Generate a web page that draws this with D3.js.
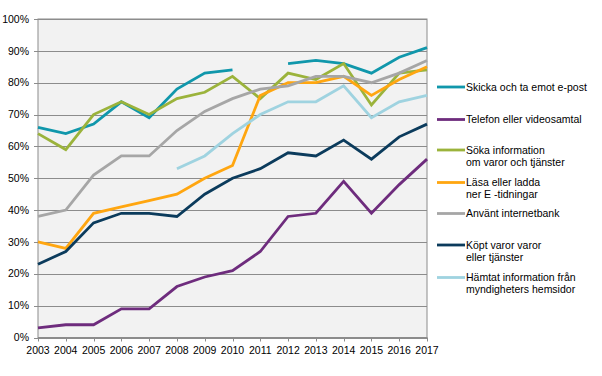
<!DOCTYPE html>
<html>
<head>
<meta charset="utf-8">
<script src="https://cdn.jsdelivr.net/npm/d3@7"></script>
<style>
  body { margin: 0; background: #fff; }
  svg text { font-family: "Liberation Sans", Arial, sans-serif; fill: #000; }
</style>
</head>
<body>
<div class="chart-container"></div>
<script>
// Years on the x axis
const years = [2003, 2004, 2005, 2006, 2007, 2008, 2009, 2010, 2011, 2012, 2013, 2014, 2015, 2016, 2017];
const yTicks = [0, 10, 20, 30, 40, 50, 60, 70, 80, 90, 100];

// Series values (percent), null = no data
const skicka   = [66, 64, 67, 74, 69, 78, 83, 84, null, 86, 87, 86, 83, 88, 91];
const telefon  = [3, 4, 4, 9, 9, 16, 19, 21, 27, 38, 39, 49, 39, 48, 56];
const soka     = [64, 59, 70, 74, 70, 75, 77, 82, 75, 83, 81, 86, 73, 83, 84];
const lasa     = [30, 28, 39, 41, 43, 45, 50, 54, 76, 80, 80, 82, 76, 81, 85];
const anvant   = [38, 40, 51, 57, 57, 65, 71, 75, 78, 79, 82, 82, 80, 83, 87];
const kopt     = [23, 27, 36, 39, 39, 38, 45, 50, 53, 58, 57, 62, 56, 63, 67];
const hamtat   = [null, null, null, null, null, 53, 57, 64, 70, 74, 74, 79, 69, 74, 76];

const seriesNames = [
  ["Skicka och ta emot e-post"],
  ["Telefon eller videosamtal"],
  ["Söka information", "om varor och tjänster"],
  ["Läsa eller ladda", "ner E -tidningar"],
  ["Använt internetbank"],
  ["Köpt varor varor", "eller tjänster"],
  ["Hämtat information från", "myndigheters hemsidor"]
];
const seriesValues = [skicka, telefon, soka, lasa, anvant, kopt, hamtat];
const colors = ["#1097ab", "#6e2c7d", "#9bb33b", "#ffa610", "#a6a6a6", "#0b3b5c", "#9fd3e0"];

const width = 602, height = 376;
const margin = { left: 38, right: 175, top: 19, bottom: 38.5 };

const svg = d3.select(".chart-container")
  .append("svg")
  .attr("width", width)
  .attr("height", height);

const x = d3.scaleLinear()
  .domain([2003, 2017])
  .range([margin.left, width - margin.right]);

const y = d3.scaleLinear()
  .domain([0, 100])
  .range([height - margin.bottom, margin.top]);

// plot background
svg.append("rect")
  .attr("x", x(2003))
  .attr("y", y(100))
  .attr("width", x(2017) - x(2003))
  .attr("height", y(0) - y(100))
  .attr("fill", "#f2f2f2")
  .attr("stroke", "#8c8c8c")
  .attr("stroke-width", 1);

// gridlines
svg.append("g")
  .selectAll("line")
  .data(yTicks)
  .enter()
  .append("line")
  .attr("x1", x(2003) - 4)
  .attr("x2", x(2017))
  .attr("y1", (d) => Math.round(y(d)) + 0.5)
  .attr("y2", (d) => Math.round(y(d)) + 0.5)
  .attr("stroke", "#8c8c8c")
  .attr("stroke-width", 1);

// y labels
svg.append("g")
  .selectAll("text")
  .data(yTicks)
  .enter()
  .append("text")
  .attr("x", x(2003) - 9)
  .attr("y", (d) => y(d))
  .attr("dy", "0.35em")
  .attr("text-anchor", "end")
  .style("font-size", "10.5px")
  .text((d) => d + "%");

// x ticks and labels
svg.append("g")
  .selectAll("line")
  .data(years)
  .enter()
  .append("line")
  .attr("x1", (d) => Math.round(x(d)) + 0.5)
  .attr("x2", (d) => Math.round(x(d)) + 0.5)
  .attr("y1", y(0))
  .attr("y2", y(0) + 4)
  .attr("stroke", "#8c8c8c");

svg.append("g")
  .selectAll("text")
  .data(years)
  .enter()
  .append("text")
  .attr("x", (d) => x(d))
  .attr("y", y(0) + 16)
  .attr("text-anchor", "middle")
  .style("font-size", "10.5px")
  .text((d) => d);

// lines
const line = d3.line()
  .defined((d) => d != null)
  .x((d, i) => x(years[i]))
  .y((d) => y(d));

svg.append("g")
  .selectAll("path")
  .data(seriesValues)
  .enter()
  .append("path")
  .attr("d", line)
  .attr("fill", "none")
  .attr("stroke", (d, i) => colors[i])
  .attr("stroke-width", 2.8)
  .attr("stroke-linejoin", "miter");

// legend
const legendY = [87, 119.5, 150, 182.5, 213.5, 245, 277.5];
const legend = svg.append("g")
  .selectAll("g")
  .data(seriesNames)
  .enter()
  .append("g")
  .attr("transform", (d, i) => `translate(437, ${legendY[i]})`);

legend.append("line")
  .attr("x1", 0)
  .attr("x2", 28)
  .attr("stroke", (d, i) => colors[i])
  .attr("stroke-width", 2.8);

legend.each(function (d) {
  const g = d3.select(this);
  d.forEach((t, j) => {
    g.append("text")
      .attr("x", 29)
      .attr("y", j * 12)
      .attr("dy", "0.35em")
      .style("font-size", "10.5px")
      .text(t);
  });
});
</script>
</body>
</html>
